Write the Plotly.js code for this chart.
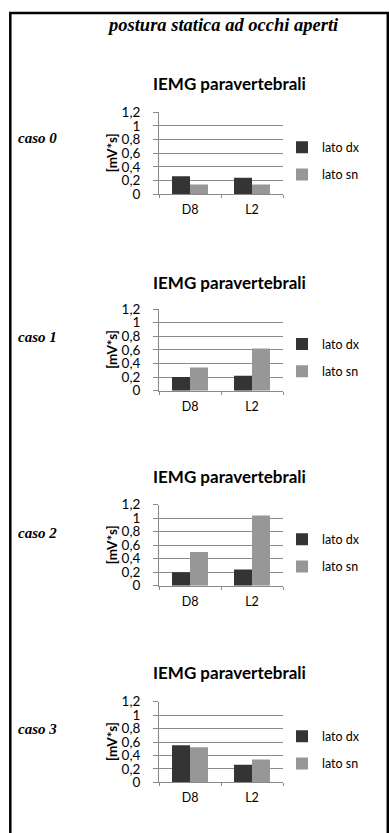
<!DOCTYPE html>
<html>
<head>
<meta charset="utf-8">
<script src="https://cdn.plot.ly/plotly-3.0.1.min.js"></script>
<style>html,body{margin:0;padding:0;background:#fff;}#chart{width:389px;height:833px;}</style>
</head>
<body>
<div id="chart"></div>
<script>
// ---- data ----
const categories = ['D8', 'L2'];
const seriesNames = ['lato dx', 'lato sn'];
const casoLabels = ['caso 0', 'caso 1', 'caso 2', 'caso 3'];
const latoDx_caso0 = [0.26, 0.24];
const latoSn_caso0 = [0.14, 0.14];
const latoDx_caso1 = [0.20, 0.22];
const latoSn_caso1 = [0.34, 0.62];
const latoDx_caso2 = [0.20, 0.24];
const latoSn_caso2 = [0.50, 1.04];
const latoDx_caso3 = [0.55, 0.26];
const latoSn_caso3 = [0.52, 0.34];
const yTickVals = [0, 0.2, 0.4, 0.6, 0.8, 1, 1.2];
const yTickText = ['0', '0,2', '0,4', '0,6', '0,8', '1', '1,2'];
const mainTitle = 'postura statica ad occhi aperti';
const chartTitle = 'IEMG paravertebrali';
const yAxisTitle = '[mV*s]';

// ---- layout helpers ----
const W = 389, H = 833;
const fx = x => x / W;
const fy = y => 1 - y / H;
const dxSets = [latoDx_caso0, latoDx_caso1, latoDx_caso2, latoDx_caso3];
const snSets = [latoSn_caso0, latoSn_caso1, latoSn_caso2, latoSn_caso3];
const plotTop = [112.3, 309, 504.7, 701.7];
const plotBot = [194, 390.7, 585.7, 782.3];
const titleY = [83, 282, 476, 672];
const casoY = [138.3, 336.7, 532.7, 729];
const plotLeft = 159, plotRight = 283;
const darkCol = '#343434', lightCol = '#979797', gridCol = '#8a8a8a';
const FONT = 'Lato, "Open Sans", sans-serif';

const traces = [];
const layout = {
  width: W, height: H,
  margin: {l: 0, r: 0, t: 0, b: 0},
  paper_bgcolor: '#fff', plot_bgcolor: '#fff',
  separators: ',.',
  barmode: 'group', bargap: 0.42, bargroupgap: 0,
  font: {family: FONT, color: '#000'},
  annotations: [], shapes: []
};

for (let i = 0; i < 4; i++) {
  const sfx = i === 0 ? '' : String(i + 1);
  const xa = 'x' + sfx, ya = 'y' + sfx, lg = 'legend' + sfx;
  traces.push({
    type: 'bar', x: categories, y: dxSets[i], name: seriesNames[0],
    xaxis: xa, yaxis: ya, legend: lg, legendgroup: 'dx' + i,
    marker: {color: darkCol, line: {width: 0}}, hoverinfo: 'skip'
  });
  traces.push({
    type: 'bar', x: categories, y: snSets[i], name: seriesNames[1],
    xaxis: xa, yaxis: ya, legend: lg, legendgroup: 'sn' + i,
    marker: {color: lightCol, line: {width: 0}}, hoverinfo: 'skip'
  });
  layout['xaxis' + sfx] = {
    domain: [fx(plotLeft), fx(plotRight)], anchor: ya,
    type: 'category', showgrid: false, zeroline: false,
    showline: true, linecolor: gridCol, linewidth: 1,
    ticks: 'outside', tickson: 'boundaries', ticklen: 3, tickcolor: gridCol, tickwidth: 1,
    ticklabelstandoff: 4,
    tickfont: {family: FONT, size: 12.5, color: '#000'},
    fixedrange: true
  };
  layout['yaxis' + sfx] = {
    domain: [fy(plotBot[i]), fy(plotTop[i])], anchor: xa,
    range: [0, 1.2], tickmode: 'array', tickvals: yTickVals, ticktext: yTickText,
    showgrid: true, gridcolor: gridCol, gridwidth: 1, zeroline: false,
    showline: true, linecolor: gridCol, linewidth: 1,
    ticks: 'outside', ticklen: 5, tickcolor: gridCol, tickwidth: 1,
    ticklabelstandoff: 10,
    tickfont: {family: FONT, size: 13.5, color: '#000'},
    fixedrange: true
  };
  layout[lg] = {
    x: fx(282), xanchor: 'left',
    y: fy((plotTop[i] + plotBot[i]) / 2 + 8), yanchor: 'middle',
    bgcolor: 'rgba(0,0,0,0)', borderwidth: 0,
    font: {family: FONT, size: 12.5, color: '#000'},
    tracegroupgap: 8, traceorder: 'grouped'
  };
  layout.annotations.push({
    xref: 'paper', yref: 'paper', x: fx(229.5), y: fy(titleY[i]),
    xanchor: 'center', yanchor: 'middle', showarrow: false,
    text: '<b>' + chartTitle + '</b>',
    font: {family: FONT, size: 17, color: '#000'}
  });
  layout.annotations.push({
    xref: 'paper', yref: 'paper', x: fx(16), y: fy(casoY[i]),
    xanchor: 'left', yanchor: 'middle', showarrow: false,
    text: '<b><i>' + casoLabels[i] + '</i></b>',
    font: {family: '"Liberation Serif", "DejaVu Serif", serif', size: 15, color: '#000'}
  });
  layout.annotations.push({
    xref: 'paper', yref: 'paper', x: fx(112), y: fy((plotTop[i] + plotBot[i]) / 2),
    xanchor: 'center', yanchor: 'middle', showarrow: false, textangle: -90,
    text: '<b>' + yAxisTitle + '</b>',
    font: {family: FONT, size: 13.5, color: '#000'}
  });
}

layout.annotations.push({
  xref: 'paper', yref: 'paper', x: fx(223), y: fy(25),
  xanchor: 'center', yanchor: 'middle', showarrow: false,
  text: '<b><i>' + mainTitle + '</i></b>',
  font: {family: '"Liberation Serif", "DejaVu Serif", serif', size: 18.5, color: '#000'}
});

// page frame (open at the bottom)
layout.shapes.push({
  type: 'path', xref: 'paper', yref: 'paper',
  path: 'M ' + fx(10.3) + ' ' + fy(H + 10) + ' L ' + fx(10.3) + ' ' + fy(13) +
        ' L ' + fx(387.8) + ' ' + fy(13) + ' L ' + fx(387.8) + ' ' + fy(H + 10),
  line: {color: '#000', width: 2.5}
});

Plotly.newPlot('chart', traces, layout, {displayModeBar: false, staticPlot: true});
</script>
</body>
</html>
